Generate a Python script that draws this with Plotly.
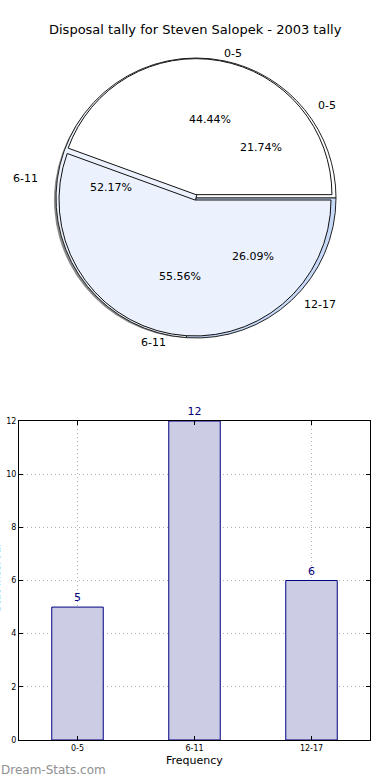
import math
import plotly.graph_objects as go

W, H = 390, 780

title = "Disposal tally for Steven Salopek - 2003 tally"
outer_labels = ["0-5", "6-11", "12-17"]
outer_values = [5, 12, 6]
inner_labels = ["0-5", "6-11"]
inner_values = [4, 5]
pie_colors = ["#ffffff", "#ecf2fd", "#c6d9f8"]

bar_categories = ["0-5", "6-11", "12-17"]
bar_values = [5, 12, 6]
y_ticks = [0, 2, 4, 6, 8, 10, 12]


def px(x):
    return x / W


def py(y):
    return 1 - y / H


cx, cy, R = 195, 198, 138
rx, ry = 142, 133


def dom(ox, oy, r, pull=0.0):
    rr = r * (1 + pull)
    return dict(x=[px(cx + ox - rr), px(cx + ox + rr)],
                y=[py(cy + oy + rr), py(cy + oy - rr)])


def rot(values):
    # plotly keeps the first slice clockwise of `rotation`; start it at 3 o'clock
    return 90 - 360 * values[0] / sum(values)


fig = go.Figure()

# shadow
fig.add_trace(go.Pie(values=outer_values, labels=outer_labels, sort=False,
                     rotation=rot(outer_values), direction="counterclockwise",
                     marker=dict(colors=["#8a8a8a"] * 3, line=dict(width=0)),
                     textinfo="none", hoverinfo="skip", showlegend=False,
                     domain=dom(-3, 2, R)))
# outer pie (first)
fig.add_trace(go.Pie(values=outer_values, labels=outer_labels, sort=False,
                     rotation=rot(outer_values), direction="counterclockwise",
                     marker=dict(colors=pie_colors, line=dict(color="#222222", width=1)),
                     textinfo="none", showlegend=False,
                     domain=dom(1, 0, R + 2)))
# inner pie (second, drawn on top)
fig.add_trace(go.Pie(values=inner_values, labels=inner_labels, sort=False,
                     rotation=rot(inner_values), direction="counterclockwise",
                     pull=[0.04, 0.0],
                     marker=dict(colors=pie_colors[:2], line=dict(color="#111111", width=1)),
                     textinfo="none", showlegend=False,
                     domain=dom(0, 2, R - 2, 0.04)))

annotations = []


def pie_texts(values, labels):
    tot = sum(values)
    start = 0.0
    for v, lab in zip(values, labels):
        frac = v / tot
        mid = math.radians((start + frac / 2) * 360)
        start += frac
        c, s = math.cos(mid), math.sin(mid)
        annotations.append(dict(x=px(cx + 0.6 * rx * c), y=py(cy - 0.6 * ry * s),
                                xref="paper", yref="paper", showarrow=False,
                                xanchor="center", yanchor="middle",
                                text=f"{100 * frac:.2f}%",
                                font=dict(size=11, color="#000000")))
        annotations.append(dict(x=px(cx + 1.1 * rx * c), y=py(cy - 1.1 * ry * s),
                                xref="paper", yref="paper", showarrow=False,
                                xanchor="left" if c >= 0 else "right", yanchor="middle",
                                text=lab, font=dict(size=11, color="#000000")))


pie_texts(outer_values, outer_labels)
pie_texts(inner_values, inner_labels)

fig.add_trace(go.Bar(x=bar_categories, y=bar_values, width=0.44,
                     marker=dict(color="#ccccE5", line=dict(color="#000080", width=1)),
                     text=[str(v) for v in bar_values], textposition="outside",
                     textfont=dict(size=11, color="#000080"), cliponaxis=False,
                     showlegend=False, xaxis="x", yaxis="y"))

annotations += [
    dict(text=title, x=0.5, y=py(30), xref="paper", yref="paper", showarrow=False,
         xanchor="center", yanchor="middle", font=dict(size=13, color="#000000")),
    dict(text="Frequency", x=px(194.5), y=py(760), xref="paper", yref="paper",
         xanchor="center", yanchor="middle",
         showarrow=False, font=dict(size=11, color="#000000")),
    dict(text="Stat Interval", x=px(-4), y=py(578), xref="paper", yref="paper",
         xanchor="center", yanchor="middle",
         showarrow=False, textangle=-90, font=dict(size=11, color="#000000")),
    dict(text="Dream-Stats.com", x=px(-1), y=py(770), xref="paper", yref="paper",
         xanchor="left", yanchor="middle", showarrow=False,
         font=dict(size=12, color="#909090")),
]

axis_common = dict(showline=True, linecolor="#000000", linewidth=1, mirror="ticks",
                   ticks="inside", ticklen=4, tickcolor="#000000",
                   showgrid=True, gridcolor="#b0b0b0", griddash="1px,3px", gridwidth=1,
                   tickfont=dict(size=8), zeroline=False, fixedrange=True,
                   automargin=False)

fig.update_layout(
    template="none",
    width=W, height=H,
    margin=dict(l=0, r=0, t=0, b=0, pad=0),
    paper_bgcolor="#ffffff", plot_bgcolor="#ffffff",
    font=dict(family="DejaVu Sans", color="#000000"),
    annotations=annotations,
    xaxis=dict(domain=[px(19), px(370)], range=[-0.5, 2.5], type="category",
               anchor="y", **axis_common),
    yaxis=dict(domain=[py(740), py(421)], range=[0, 12], tickvals=y_ticks,
               anchor="x", **axis_common),
)

fig.write_html("out.html", config={"displayModeBar": False},
               post_script="document.body.style.margin='0';document.body.style.overflow='hidden';")
